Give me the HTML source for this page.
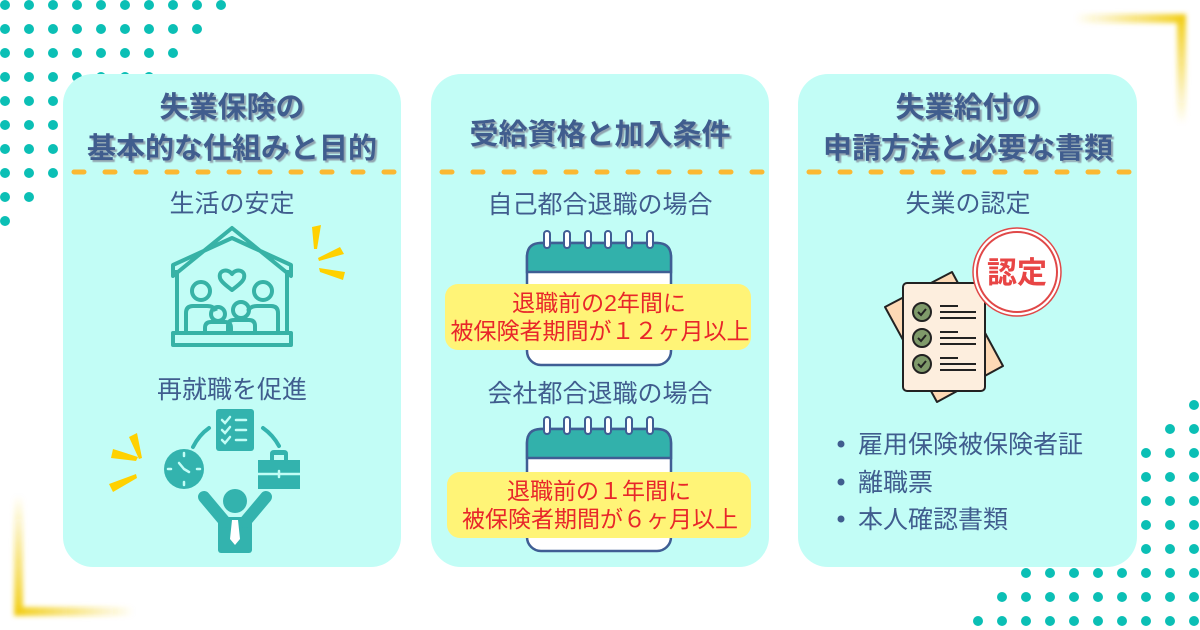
<!DOCTYPE html>
<html><head><meta charset="utf-8"><style>
html,body{margin:0;padding:0;background:#fff;}
svg{display:block;}
text{font-family:"Liberation Sans","Noto Sans CJK JP",sans-serif;}
</style></head><body>
<svg width="1200" height="630" viewBox="0 0 1200 630" xmlns="http://www.w3.org/2000/svg">
<defs>
<filter id="bl" x="-50%" y="-50%" width="200%" height="200%"><feGaussianBlur stdDeviation="2.5"/></filter>
<filter id="sh" x="-10%" y="-10%" width="120%" height="130%"><feDropShadow dx="2" dy="2" stdDeviation="0.6" flood-color="#8a9aa8" flood-opacity="0.9"/></filter>
<pattern id="p1" patternUnits="userSpaceOnUse" x="0" y="0" width="24" height="24"><circle cx="5" cy="5" r="5" fill="#0bbfb5"/></pattern>
<pattern id="p2" patternUnits="userSpaceOnUse" x="6" y="9" width="24" height="24"><circle cx="12" cy="12" r="5" fill="#0bbfb5"/></pattern>
<linearGradient id="gh" x1="0" x2="1"><stop offset="0" stop-color="#f2cf1a" stop-opacity="0"/><stop offset="1" stop-color="#f2cf1a"/></linearGradient>
<linearGradient id="gv" x1="0" x2="0" y1="0" y2="1"><stop offset="0" stop-color="#f2cf1a"/><stop offset="1" stop-color="#f2cf1a" stop-opacity="0"/></linearGradient>
<linearGradient id="gh2" x1="0" x2="1"><stop offset="0" stop-color="#f2cf1a"/><stop offset="1" stop-color="#f2cf1a" stop-opacity="0"/></linearGradient>
<linearGradient id="gv2" x1="0" x2="0" y1="0" y2="1"><stop offset="0" stop-color="#f2cf1a" stop-opacity="0"/><stop offset="1" stop-color="#f2cf1a"/></linearGradient>
</defs>

<path d="M0 0 H231 V17 H207 V41 H183 V65 H159 V89 H135 V113 H111 V137 H87 V161 H63 V185 H39 V209 H15 V233 H0 Z" fill="url(#p1)"/>
<path d="M1182 393 H1200 V630 H966 V609 H990 V585 H1014 V561 H1038 V537 H1062 V513 H1086 V489 H1110 V465 H1134 V441 H1158 V417 H1182 Z" fill="url(#p2)"/>

<g filter="url(#bl)">
<rect x="1075" y="14" width="111" height="9" fill="url(#gh)"/>
<rect x="1177" y="14" width="9" height="110" fill="url(#gv)"/>
<rect x="14" y="495" width="9" height="121" fill="url(#gv2)"/>
<rect x="14" y="607" width="120" height="9" fill="url(#gh2)"/>
</g>

<rect x="63" y="74" width="338" height="493" rx="30" fill="#c2fdf6"/>
<rect x="431" y="74" width="338" height="493" rx="30" fill="#c2fdf6"/>
<rect x="798" y="74" width="339" height="493" rx="30" fill="#c2fdf6"/>

<g stroke="#fbb832" stroke-width="5" stroke-linecap="round" stroke-dasharray="10 21">
<line x1="74" y1="172" x2="396" y2="172"/>
<line x1="442" y1="172" x2="764" y2="172"/>
<line x1="809" y1="172" x2="1132" y2="172"/>
</g>

<g fill="#405d8e" font-weight="bold" font-size="29" text-anchor="middle" filter="url(#sh)">
<text x="232" y="117">失業保険の</text>
<text x="232" y="158">基本的な仕組みと目的</text>
<text x="600" y="144">受給資格と加入条件</text>
<text x="968" y="117">失業給付の</text>
<text x="968" y="158">申請方法と必要な書類</text>
</g>
<g fill="#405d8e" font-size="25" text-anchor="middle">
<text x="232" y="212">生活の安定</text>
<text x="232" y="398">再就職を促進</text>
<text x="600" y="213">自己都合退職の場合</text>
<text x="600" y="402">会社都合退職の場合</text>
<text x="968" y="212">失業の認定</text>
</g>

<g fill="none" stroke="#37b2a6" stroke-width="4" stroke-linejoin="round">
<path d="M173 276 L232 228 L291 276 L291 265 L232 238 L173 265 Z"/>
<path d="M177 270 V333 M287 270 V333"/>
<rect x="173" y="333" width="118" height="12"/>
<path d="M232 274 c-4 -6 -14 -4 -12 4 c1 4 8 9 12 12 c4 -3 11 -8 12 -12 c2 -8 -8 -10 -12 -4z"/>
<circle cx="201" cy="291" r="9"/><circle cx="263" cy="291" r="9"/>
<path d="M186 333 V313 q0 -7 7 -7 h14 q7 0 9 5"/>
<path d="M278 333 V313 q0 -7 -7 -7 h-14 q-7 0 -9 5"/>
<circle cx="218" cy="314" r="7"/><circle cx="241" cy="310" r="8"/>
<path d="M205 333 v-5 q0 -6 6 -6 h14 q6 0 6 6 v5"/>
<path d="M228 333 v-7 q0 -6 6 -6 h15 q6 0 6 6 v7"/>
</g>
<g fill="#ffd100">
<path d="M312 227 l9 -2 l-4 24 l-3 0z"/>
<path d="M318 258 l22 -11 l4 7 l-25 7z"/>
<path d="M319 268 l26 4 l-2 8 l-23 -8z"/>
<path d="M129 437 l8 -4 l5 25 l-3 1z"/>
<path d="M111 458 l2 -9 l25 8 l-2 4z"/>
<path d="M113 492 l-4 -8 l27 -10 l1 4z"/>
</g>

<g fill="#33b3ae">
<rect x="216" y="409" width="38" height="42" rx="3"/>
<circle cx="184" cy="469" r="20"/>
<rect x="258" y="460" width="42" height="29"/>
<path d="M270 460 v-6 q0 -4 4 -4 h10 q4 0 4 4 v6 h-4 v-5 h-10 v5z"/>
<circle cx="235" cy="501" r="12"/>
<rect x="218" y="517" width="34" height="36" rx="3"/>
</g>
<g stroke="#33b3ae" stroke-width="12" stroke-linecap="round">
<line x1="204" y1="497" x2="225" y2="522"/>
<line x1="266" y1="497" x2="245" y2="522"/>
</g>
<g fill="none" stroke="#33b3ae" stroke-width="4" stroke-linecap="round">
<path d="M193 447 q6 -12 16 -19"/>
<path d="M263 428 q10 7 16 18"/>
</g>
<g stroke="#c2fdf6" stroke-width="2.5" fill="none" stroke-linecap="round">
<path d="M222 420 l3 3 l5 -6 M222 430 l3 3 l5 -6 M222 440 l3 3 l5 -6 M236 420 h10 M236 430 h10 M236 440 h10"/>
<path d="M184 469 l-5 -6 M184 469 l5 3 M184 453 v3 M184 482 v3 M168 469 h3 M197 469 h3"/>
<path d="M258 474 h42 M279 471 v6"/>
</g>
<path d="M232 520 h6 l2 19 l-5 6 l-5 -6z" fill="#fff"/>

<g id="cal1">
<rect x="527" y="243" width="144" height="122" rx="14" fill="#fff" stroke="#3f5e94" stroke-width="2.5"/>
<path d="M541 243 h116 q14 0 14 14 v15 h-144 v-15 q0 -14 14 -14z" fill="#32b1ab" stroke="#3f5e94" stroke-width="2.5"/>
<g fill="#fff" stroke="#3f5e94" stroke-width="2">
<rect x="544" y="231" width="6" height="17" rx="3"/><rect x="564" y="231" width="6" height="17" rx="3"/><rect x="585" y="231" width="6" height="17" rx="3"/><rect x="605" y="231" width="6" height="17" rx="3"/><rect x="626" y="231" width="6" height="17" rx="3"/><rect x="647" y="231" width="6" height="17" rx="3"/>
</g>
</g>
<use href="#cal1" transform="translate(0,186)"/>
<rect x="445" y="284" width="306" height="66" rx="13" fill="#fff477"/>
<rect x="447" y="472" width="304" height="66" rx="13" fill="#fff477"/>
<g fill="#e8262a" font-size="23" text-anchor="middle">
<text x="599" y="311">退職前の2年間に</text>
<text x="600" y="339">被保険者期間が１２ヶ月以上</text>
<text x="599" y="499">退職前の１年間に</text>
<text x="600" y="527">被保険者期間が６ヶ月以上</text>
</g>

<g stroke="#222" stroke-width="2" stroke-linejoin="round">
<path d="M885 307 L952 272 L1003 366 L937 402 Z" fill="#fdd9b5"/>
<rect x="903" y="283" width="82" height="108" rx="4" fill="#fdeede"/>
</g>
<g fill="#7f9a6a" stroke="#222" stroke-width="2">
<circle cx="922" cy="312" r="9"/><circle cx="922" cy="338" r="9"/><circle cx="922" cy="364" r="9"/>
</g>
<g stroke="#222" stroke-width="2" fill="none">
<path d="M918 312 l3 3 l5 -6 M918 338 l3 3 l5 -6 M918 364 l3 3 l5 -6"/>
<path d="M940 306 h18 M940 312 h36 M940 318 h36 M940 332 h18 M940 338 h36 M940 344 h36 M940 358 h18 M940 364 h36 M940 370 h36"/>
</g>
<circle cx="1017" cy="272" r="44" fill="#fff" stroke="#e04848" stroke-width="1.5"/>
<circle cx="1017" cy="272" r="40" fill="none" stroke="#e04848" stroke-width="2"/>
<text x="1017" y="283" fill="#e84545" font-size="30" font-weight="bold" text-anchor="middle">認定</text>

<g fill="#405d8e" font-size="25">
<circle cx="841" cy="444" r="3.5"/><circle cx="841" cy="482" r="3.5"/><circle cx="841" cy="519" r="3.5"/>
<text x="858" y="453">雇用保険被保険者証</text>
<text x="858" y="491">離職票</text>
<text x="858" y="528">本人確認書類</text>
</g>
</svg>
</body></html>
